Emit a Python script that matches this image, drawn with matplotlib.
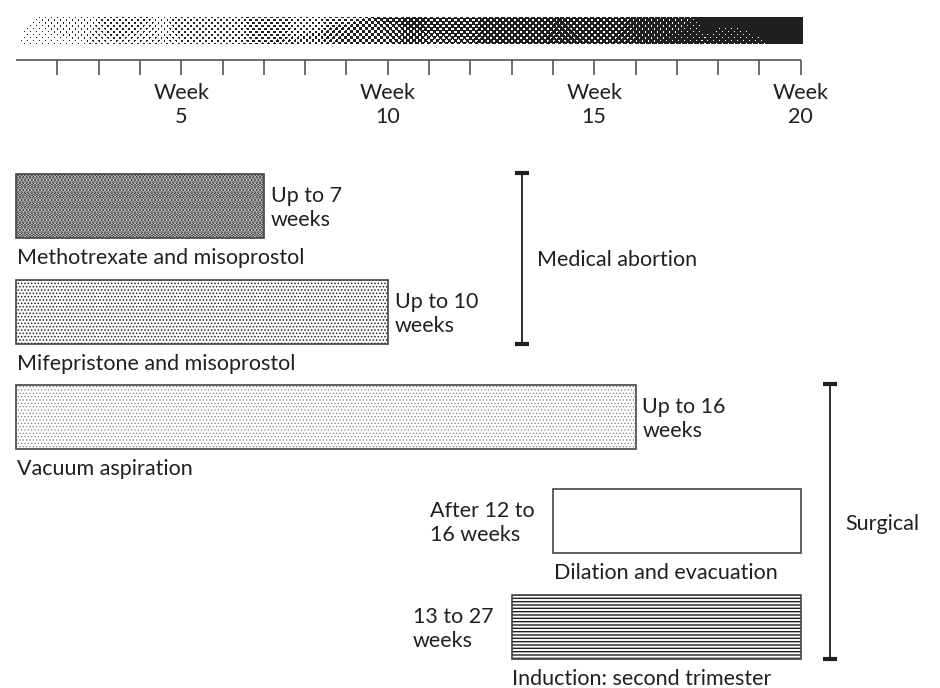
import numpy as np
import matplotlib
matplotlib.use("Agg")
import matplotlib.pyplot as plt
from matplotlib.patches import Rectangle

plt.rcParams['font.family'] = ['Lato', 'DejaVu Sans']

INK = '#231f20'
FS = 15.5

# methods, week ranges drawn, notes
names = ["Methotrexate and misoprostol", "Mifepristone and misoprostol",
         "Vacuum aspiration", "Dilation and evacuation",
         "Induction: second trimester"]
start_wk = [1, 1, 1, 14, 13]
end_wk = [7, 10, 16, 20, 20]
notes = ["Up to 7\nweeks", "Up to 10\nweeks", "Up to 16\nweeks",
         "After 12 to\n16 weeks", "13 to 27\nweeks"]
note_side = ["right", "right", "right", "left", "left"]

week_ticks = list(range(2, 21))
week_labels = [5, 10, 15, 20]

groups = ["Medical abortion", "Surgical"]
group_rows = [(0, 1), (2, 4)]

# layout (pixels of a 940x688 canvas, x in weeks)
PX = 41.3          # pixels per week
X0 = 16            # pixel of week 1
bar_top = [174, 280, 385, 489, 595]
bar_h = 64


def wk(px):
    return 1 + (px - X0) / PX


fig = plt.figure(figsize=(9.4, 6.88), dpi=100)
ax = fig.add_axes([0, 0, 1, 1])
ax.set_xlim(wk(0), wk(940))
ax.set_ylim(688, 0)
ax.axis('off')

# halftone gradient strip
W, H = 787, 27
xx, yy = np.meshgrid(np.arange(W) + 0.5, np.arange(H) + 0.5)
g = np.clip(0.07 + xx / 820.0, 0, 1)
p = 4.2
u = (xx + yy) / np.sqrt(2)
v = (xx - yy) / np.sqrt(2)
s = 0.5 + 0.25 * (np.cos(2 * np.pi * u / p) + np.cos(2 * np.pi * v / p))
img = np.where(s > 1 - g, 0.13, 1.0)
ax.imshow(img, cmap='gray', vmin=0, vmax=1, interpolation='nearest',
          extent=(wk(16), wk(803), 44, 17), aspect='auto', zorder=1)

# timeline axis
ax.hlines(60, 1, 20, color='#555555', lw=1.2)
ax.vlines(week_ticks, 60, 75, color='#555555', lw=1.2)
for w in week_labels:
    ax.text(w, 105, "Week\n%d" % w, ha='center', va='center', fontsize=FS,
            color=INK, linespacing=1.2)

# bars
styles = [
    dict(hatch='.....', hlw=1.9, hc=INK),
    dict(hatch='.....', hlw=0.7, hc=INK),
    dict(hatch='.....', hlw=0.45, hc='#777777'),
    dict(hatch='', hlw=1.0, hc=INK),
    dict(hatch='-----', hlw=1.0, hc=INK),
]
for i, nm in enumerate(names):
    y0 = bar_top[i]
    st = styles[i]
    with plt.rc_context({'hatch.linewidth': st['hlw']}):
        hp = Rectangle((start_wk[i], y0), end_wk[i] - start_wk[i], bar_h,
                       facecolor='white', edgecolor=st['hc'], lw=0,
                       hatch=st['hatch'], zorder=2)
        if hasattr(hp, 'set_hatch_linewidth'):
            hp.set_hatch_linewidth(st['hlw'])
        ax.add_patch(hp)
    ax.add_patch(Rectangle((start_wk[i], y0), end_wk[i] - start_wk[i], bar_h,
                           facecolor='none', edgecolor='#444444', lw=1.2,
                           zorder=3))
    ax.text(start_wk[i] + 0.02, y0 + bar_h + 20, nm, ha='left', va='center',
            fontsize=FS, color=INK)
    if note_side[i] == "right":
        ax.text(end_wk[i] + 7 / PX, y0 + bar_h / 2 + 2, notes[i], ha='left',
                va='center', fontsize=FS, color=INK, linespacing=1.2)
    else:
        ax.text(start_wk[i] - 18 / PX, y0 + bar_h / 2 + 2, notes[i],
                ha='right', va='center', multialignment='left', fontsize=FS,
                color=INK, linespacing=1.2)

# group brackets
bracket_x = [wk(522), wk(830)]
cap = 7 / PX
for gname, (a, b), bx in zip(groups, group_rows, bracket_x):
    ytop = bar_top[a] - 1
    ybot = bar_top[b] + bar_h
    ax.vlines(bx, ytop, ybot, color=INK, lw=1.3)
    ax.hlines([ytop, ybot], bx - cap, bx + cap, color=INK, lw=3)
    ax.text(bx + 15 / PX, (ytop + ybot) / 2 + 2, gname, ha='left',
            va='center', fontsize=FS, color=INK)

fig.savefig("out.png", dpi=100)
